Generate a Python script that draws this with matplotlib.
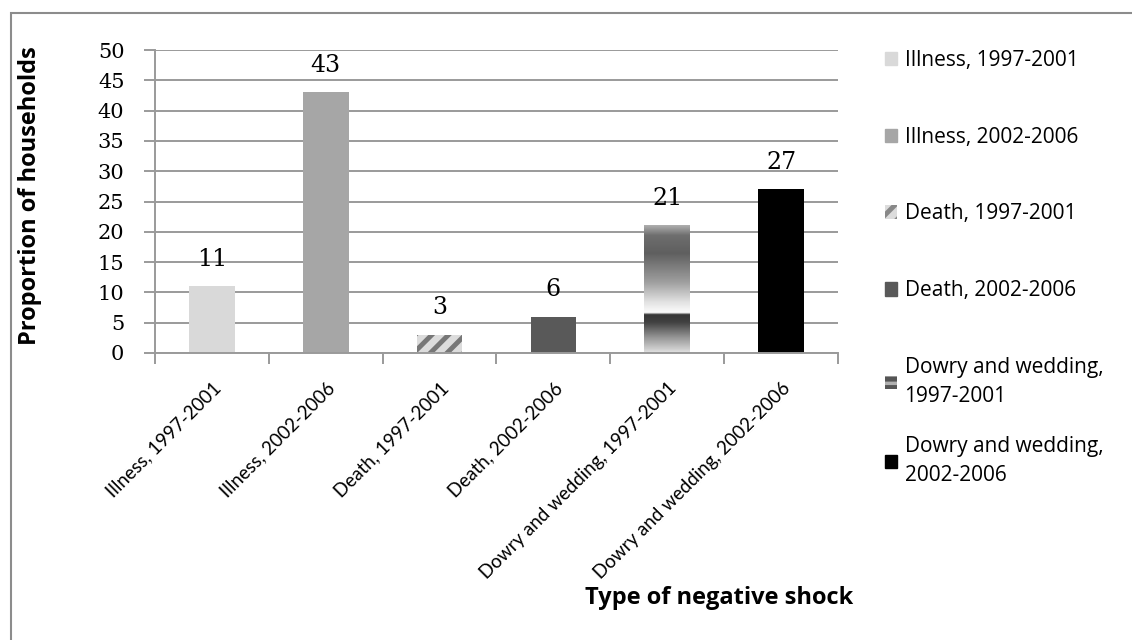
import numpy as np
import matplotlib.pyplot as plt
from matplotlib.patches import Patch, Rectangle
from matplotlib.transforms import ScaledTranslation

# shock categories and share of households (%)
categories = ["Illness, 1997-2001", "Illness, 2002-2006", "Death, 1997-2001",
              "Death, 2002-2006", "Dowry and wedding, 1997-2001",
              "Dowry and wedding, 2002-2006"]
legend_labels = ["Illness, 1997-2001", "Illness, 2002-2006", "Death, 1997-2001",
                 "Death, 2002-2006", "Dowry and wedding,\n1997-2001",
                 "Dowry and wedding,\n2002-2006"]
values = [11, 43, 3, 6, 21, 27]
y_ticks = [0, 5, 10, 15, 20, 25, 30, 35, 40, 45, 50]

GRID = "#9a9a9a"
SANS = "Open Sans"
SERIF = "DejaVu Serif"
plt.rcParams["hatch.linewidth"] = 3.5

fig = plt.figure(figsize=(11.32, 6.4), dpi=100)
ax = fig.add_axes([155 / 1132, 1 - 353 / 640, 683 / 1132, 303 / 640])

x = np.arange(len(categories))
styles = [
    dict(color="#d9d9d9"),
    dict(color="#a6a6a6"),
    dict(facecolor="#dcdcdc", edgecolor="#777777", hatch="//", linewidth=0),
    dict(color="#595959"),
    dict(facecolor="none", linewidth=0),
    dict(color="#000000"),
]
bars = []
for i, (xi, v) in enumerate(zip(x, values)):
    b = ax.bar(xi, v, width=0.4, zorder=2, **styles[i])[0]
    bars.append(b)

# vertical grey gradient fill for the dowry 1997-2001 bar (top -> bottom)
stops_pos = [0.0, 0.08, 0.22, 0.45, 0.60, 0.685, 0.70, 0.76, 0.88, 1.0]
stops_val = [175, 110, 95, 160, 225, 252, 55, 65, 150, 225]
t = np.linspace(0, 1, 300)
shade = np.interp(t, stops_pos, stops_val).reshape(-1, 1)
gb = bars[4]
ax.imshow(shade, cmap="gray", vmin=0, vmax=255, aspect="auto", zorder=2,
          extent=(gb.get_x(), gb.get_x() + gb.get_width(), 0, gb.get_height()),
          interpolation="bilinear")

# value labels above the bars
for b, v in zip(bars, values):
    ax.text(b.get_x() + b.get_width() / 2, v + 2.6, str(v), ha="center",
            va="bottom", fontsize=17, family=SERIF)

ax.set_xlim(-0.5, len(categories) - 0.5)
ax.set_ylim(0, 50)
ax.set_yticks(y_ticks)
ax.set_yticklabels([str(v) for v in y_ticks], family=SERIF, fontsize=15)
ax.yaxis.grid(True, color=GRID, linewidth=1.4)
ax.set_axisbelow(True)

ax.set_xticks(x)
ax.set_xticklabels(categories, rotation=45, ha="right", rotation_mode="anchor",
                   family="Lato", fontsize=13.5)
shift = ScaledTranslation(-2 / 100, 0, fig.dpi_scale_trans)
for lbl in ax.get_xticklabels():
    lbl.set_transform(lbl.get_transform() + shift)
ax.set_xticks(np.arange(-0.5, len(categories)), minor=True)
ax.tick_params(axis="x", which="major", length=0, pad=19)
ax.tick_params(axis="x", which="minor", length=8, color=GRID, width=1.4)
ax.tick_params(axis="y", length=8, color=GRID, width=1.4, pad=14)

for side in ("top", "right"):
    ax.spines[side].set_visible(False)
for side in ("left", "bottom"):
    ax.spines[side].set_color(GRID)
    ax.spines[side].set_linewidth(1.4)

ax.set_ylabel("Proportion of households", fontsize=17, fontweight="bold", family=SANS)
ax.yaxis.set_label_coords(-0.165, 0.52)
ax.set_xlabel("Type of negative shock", fontsize=17, fontweight="bold", family=SANS)
ax.xaxis.set_label_coords(0.826, -0.77)

handles = [
    Patch(color="#d9d9d9"),
    Patch(color="#a6a6a6"),
    Patch(facecolor="#dcdcdc", edgecolor="#888888", hatch="//", linewidth=0),
    Patch(color="#595959"),
    Patch(facecolor="#b0b0b0", edgecolor="#555555", hatch="--", linewidth=0),
    Patch(color="#000000"),
]
leg_kw = dict(loc="upper left", frameon=False, prop={"family": SANS, "size": 15},
              handlelength=0.6, handleheight=0.6, handletextpad=0.35)
# single-line entries and the two wrapped entries are laid out as two blocks
leg_a = fig.legend(handles[:4], legend_labels[:4],
                   bbox_to_anchor=(866 / 1132, 1 - 31 / 640),
                   labelspacing=2.68, **leg_kw)
leg_b = fig.legend(handles[4:], legend_labels[4:],
                   bbox_to_anchor=(866 / 1132, 1 - 338 / 640),
                   labelspacing=1.4, **leg_kw)
for txt in leg_b.get_texts():
    txt.set_linespacing(1.5)

# outer chart border (only top and left edges fall inside the image)
fig.patches.append(Rectangle((11 / 1132, -0.1), 1.2, 1.1 - 13 / 640,
                             transform=fig.transFigure, fill=False,
                             edgecolor="#8c8c8c", linewidth=1.5))

fig.savefig("out.png", dpi=100)
